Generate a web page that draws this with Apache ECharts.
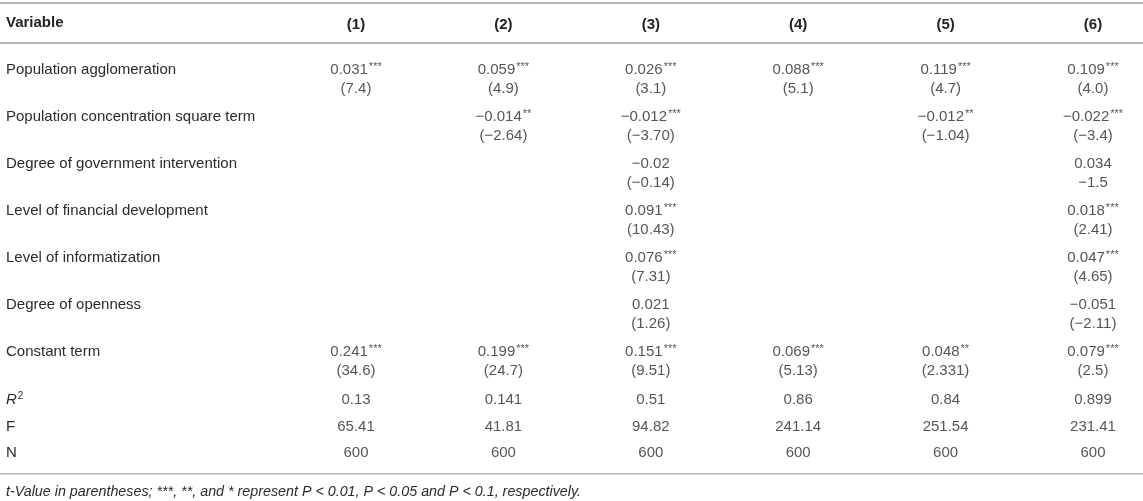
<!DOCTYPE html>
<html>
<head>
<meta charset="utf-8">
<script src="https://cdn.jsdelivr.net/npm/echarts@6/dist/echarts.min.js"></script>
<style>
  html, body { margin: 0; padding: 0; background: #fff; }
  #table { width: 1143px; height: 501px; }
</style>
</head>
<body>
<div id="table"></div>
<script>
// regression table: column headers, row variables, cells
var columns = ['(1)', '(2)', '(3)', '(4)', '(5)', '(6)'];
var variables = [
    'Population agglomeration',
    'Population concentration square term',
    'Degree of government intervention',
    'Level of financial development',
    'Level of informatization',
    'Degree of openness',
    'Constant term'
];
var coefficients = [
    ['0.031***', '0.059***', '0.026***', '0.088***', '0.119***', '0.109***'],
    ['', '−0.014**', '−0.012***', '', '−0.012**', '−0.022***'],
    ['', '', '−0.02', '', '', '0.034'],
    ['', '', '0.091***', '', '', '0.018***'],
    ['', '', '0.076***', '', '', '0.047***'],
    ['', '', '0.021', '', '', '−0.051'],
    ['0.241***', '0.199***', '0.151***', '0.069***', '0.048**', '0.079***']
];
var tValues = [
    ['(7.4)', '(4.9)', '(3.1)', '(5.1)', '(4.7)', '(4.0)'],
    ['', '(−2.64)', '(−3.70)', '', '(−1.04)', '(−3.4)'],
    ['', '', '(−0.14)', '', '', '−1.5'],
    ['', '', '(10.43)', '', '', '(2.41)'],
    ['', '', '(7.31)', '', '', '(4.65)'],
    ['', '', '(1.26)', '', '', '(−2.11)'],
    ['(34.6)', '(24.7)', '(9.51)', '(5.13)', '(2.331)', '(2.5)']
];
var statLabels = ['R2', 'F', 'N'];
var rSquared = ['0.13', '0.141', '0.51', '0.86', '0.84', '0.899'];
var fStat = ['65.41', '41.81', '94.82', '241.14', '251.54', '231.41'];
var nObs = ['600', '600', '600', '600', '600', '600'];
var footnote = 't-Value in parentheses; ***, **, and * represent P < 0.01, P < 0.05 and P < 0.1, respectively.';

var FONT = '"Liberation Sans", Arial, Helvetica, sans-serif';
var TXT = '#2b2b2b';
var RULE = '#b3b3b3';

function cells(rows) {
    var out = [];
    rows.forEach(function (row, r) {
        row.forEach(function (s, c) {
            if (s !== '') out.push([c, r, s]);
        });
    });
    return out;
}

function starFmt(p) {
    var s = p.value[2];
    var m = s.match(/^(.*?)(\*+)$/);
    if (m) return '{v|' + m[1] + '}{sup|' + m[2] + '}';
    return '{v|' + s + '}';
}

var rich = {
    v: { fontSize: 15, fontFamily: FONT, color: TXT, lineHeight: 18 },
    sup: { fontSize: 11, fontFamily: FONT, color: TXT, verticalAlign: 'top', lineHeight: 18, padding: [0, 0, 5, 1] }
};

function textSeries(data, xi, yi, dy) {
    return {
        type: 'scatter',
        xAxisIndex: xi,
        yAxisIndex: yi,
        symbolSize: 1,
        itemStyle: { color: 'transparent' },
        silent: true,
        label: {
            show: true,
            position: 'inside',
            offset: [0, dy],
            formatter: starFmt,
            rich: rich
        },
        data: data
    };
}

var chart = echarts.init(document.getElementById('table'));
chart.setOption({
    animation: false,
    title: [{
        text: 'Variable',
        left: 6, top: 15, padding: 0,
        textStyle: { fontFamily: FONT, fontSize: 15, fontWeight: 'bold', color: '#222' }
    }, {
        text: footnote,
        left: 6, top: 485, padding: 0,
        textStyle: { fontFamily: FONT, fontSize: 14.3, fontStyle: 'italic', fontWeight: 'normal', color: TXT }
    }],
    graphic: [
        { type: 'rect', shape: { x: 0, y: 2, width: 1143, height: 2 }, style: { fill: RULE } },
        { type: 'rect', shape: { x: 0, y: 42, width: 1143, height: 2 }, style: { fill: RULE } },
        { type: 'rect', shape: { x: 0, y: 473, width: 1143, height: 1.5 }, style: { fill: RULE } }
    ],
    grid: [
        { left: 356, right: 50, top: 56, height: 329 },
        { left: 356, right: 50, top: 387, height: 79.5 }
    ],
    xAxis: [{
        gridIndex: 0, type: 'category', data: columns, position: 'top', boundaryGap: false,
        axisLine: { show: false }, axisTick: { show: false }, splitLine: { show: false },
        axisLabel: { interval: 0, margin: 24, fontFamily: FONT, fontSize: 15, fontWeight: 'bold', color: '#222' }
    }, {
        gridIndex: 1, type: 'category', data: columns, boundaryGap: false, show: false
    }],
    yAxis: [{
        gridIndex: 0, type: 'category', data: variables, inverse: true,
        axisLine: { show: false }, axisTick: { show: false }, splitLine: { show: false },
        axisLabel: {
            interval: 0, align: 'left', margin: 350, verticalAlign: 'bottom', lineHeight: 19,
            fontFamily: FONT, fontSize: 15, color: TXT
        }
    }, {
        gridIndex: 1, type: 'category', data: statLabels, inverse: true,
        axisLine: { show: false }, axisTick: { show: false }, splitLine: { show: false },
        axisLabel: {
            interval: 0, align: 'left', margin: 350,
            fontFamily: FONT, fontSize: 15, color: TXT,
            formatter: function (v) {
                return v === 'R2' ? '{i|R}{s|2}' : v;
            },
            rich: {
                i: { fontFamily: FONT, fontSize: 15, fontStyle: 'italic', color: TXT, lineHeight: 18 },
                s: { fontFamily: FONT, fontSize: 10, color: TXT, verticalAlign: 'top', lineHeight: 18, padding: [0, 0, 5, 1] }
            }
        }
    }],
    series: [
        textSeries(cells(coefficients), 0, 0, -9.5),
        textSeries(cells(tValues), 0, 0, 9.5),
        textSeries(cells([rSquared, fStat, nObs]), 1, 1, 0)
    ]
});
</script>
</body>
</html>
